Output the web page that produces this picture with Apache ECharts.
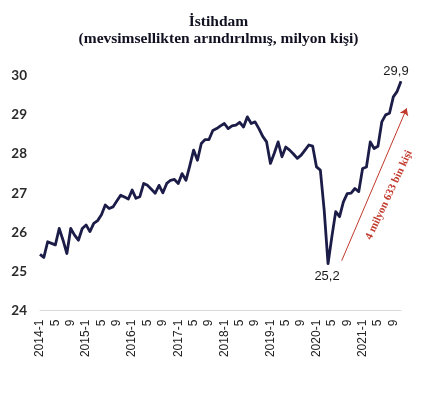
<!DOCTYPE html>
<html>
<head>
<meta charset="utf-8">
<script src="https://cdn.jsdelivr.net/npm/echarts@6/dist/echarts.min.js"></script>
<style>html,body{margin:0;padding:0;background:#fff;}#c{width:437px;height:393px;}</style>
</head>
<body>
<div id="c"></div>
<script>
// Years and months covered (2014-1 .. 2021-11)
const years = [2014, 2015, 2016, 2017, 2018, 2019, 2020, 2021];
const lastMonth = 11;
// Employment, seasonally adjusted, million persons
const employment = [
  25.44, 25.36, 25.76, 25.72, 25.68, 26.10, 25.80, 25.46, 26.10, 25.93, 25.80, 26.10,
  26.19, 26.02, 26.23, 26.30, 26.45, 26.70, 26.61, 26.65, 26.80, 26.95, 26.90, 26.85,
  27.08, 26.87, 26.91, 27.25, 27.20, 27.10, 27.00, 27.20, 27.01, 27.25, 27.33, 27.35,
  27.25, 27.50, 27.33, 27.70, 28.10, 27.84, 28.27, 28.37, 28.37, 28.60, 28.65, 28.72,
  28.78, 28.65, 28.72, 28.74, 28.81, 28.69, 28.95, 28.78, 28.82, 28.65, 28.45, 28.31,
  27.76, 28.02, 28.31, 27.93, 28.18, 28.10, 28.00, 27.89, 27.97, 28.10, 28.23, 28.20,
  27.67, 27.59, 26.57, 25.20, 25.89, 26.53, 26.40, 26.78, 26.99, 27.00, 27.12, 27.04,
  27.63, 27.67, 28.31, 28.14, 28.20, 28.82, 29.00, 29.04, 29.46, 29.60, 29.86
];
const yTicks = { min: 24, max: 30, step: 1 };
const pointLabels = [
  { index: 75, text: '25,2', pos: 'bottom' },
  { index: 94, text: '29,9', pos: 'top' }
];
const titleLines = ['İstihdam', '(mevsimsellikten arındırılmış, milyon kişi)'];
const arrowText = '4 milyon 633 bin kişi';

const categories = [];
years.forEach(y => {
  for (let m = 1; m <= 12; m++) {
    if (y === years[years.length - 1] && m > lastMonth) break;
    categories.push(m === 1 ? y + '-1' : String(m));
  }
});

const markPoints = pointLabels.map(pl => ({
  coord: [pl.index, employment[pl.index]],
  value: pl.text,
  symbol: 'circle',
  symbolSize: 1,
  itemStyle: { color: 'rgba(0,0,0,0)' },
  label: {
    show: true, position: pl.pos, distance: pl.pos === 'top' ? 3 : 6,
    offset: pl.pos === 'top' ? [-5, 0] : [-1, 0],
    formatter: pl.text, fontSize: 13, color: '#1a1a1a',
    fontFamily: 'Liberation Sans, Arial, sans-serif'
  }
}));

const chart = echarts.init(document.getElementById('c'), null, { renderer: 'canvas' });
chart.setOption({
  backgroundColor: '#ffffff',
  animation: false,
  title: {
    text: titleLines.join('\n'),
    left: 'center', top: 8,
    textStyle: {
      fontFamily: 'Liberation Serif, serif', fontWeight: 'bold',
      fontSize: 15.5, lineHeight: 17, color: '#111122'
    }
  },
  grid: { left: 40, right: 36, top: 75.7, bottom: 82.3, containLabel: false },
  xAxis: {
    type: 'category',
    data: categories,
    boundaryGap: false,
    axisLine: { show: true, lineStyle: { color: '#d9d9d9', width: 1 } },
    axisTick: { show: false },
    axisLabel: {
      interval: 3, rotate: 90, margin: 9,
      fontSize: 12, color: '#222', fontFamily: 'Liberation Sans, Arial, sans-serif'
    },
    splitLine: { show: false }
  },
  yAxis: {
    type: 'value',
    min: yTicks.min, max: yTicks.max, interval: yTicks.step,
    axisLine: { show: false },
    axisTick: { show: false },
    splitLine: { show: false },
    axisLabel: {
      margin: 13, fontSize: 13.5, fontWeight: 'bold', color: '#2a2a2a',
      fontFamily: 'Lato, Liberation Sans, sans-serif'
    }
  },
  series: [{
    type: 'line',
    data: employment,
    symbol: 'none',
    lineStyle: { color: '#1c1c48', width: 2.8, join: 'round' },
    z: 3,
    markPoint: {
      silent: true,
      data: markPoints
    },
    markLine: {
      silent: true,
      symbol: ['none', 'arrow'],
      symbolSize: 7,
      label: { show: false },
      lineStyle: { color: '#c0392b', width: 1, type: 'solid' },
      data: [[{ x: 341.7, y: 260.7 }, { x: 406.7, y: 108.3 }]]
    }
  }],
  graphic: [{
    type: 'text',
    x: 389, y: 195,
    rotation: 65 * Math.PI / 180,
    style: {
      text: arrowText,
      fill: '#c0392b',
      font: 'bold 11px "Liberation Serif", serif',
      align: 'center', verticalAlign: 'middle'
    }
  }]
});
</script>
</body>
</html>
